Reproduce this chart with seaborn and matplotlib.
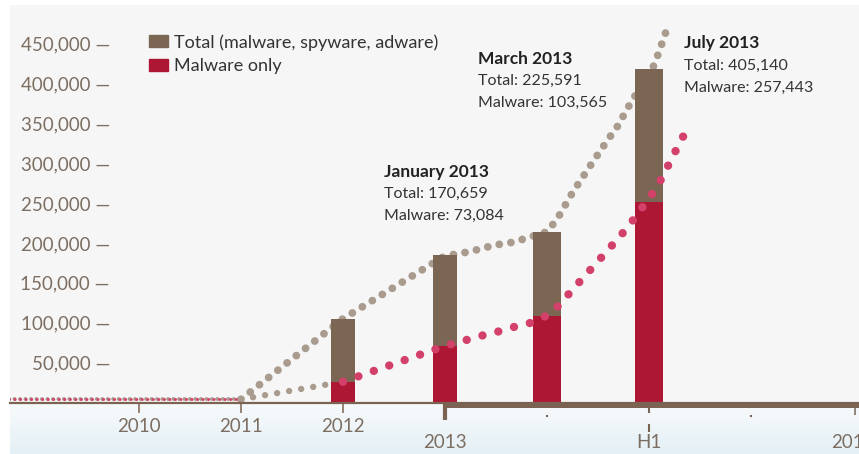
import matplotlib
matplotlib.use("Agg")
import matplotlib.pyplot as plt
from matplotlib.patches import Patch
import seaborn as sns
import numpy as np

# eixo x "quebrado": 1 unidade = 1 ano até 2013, depois 1 trimestre
tick_pos = [1, 2, 3, 4, 6, 8]
tick_labels = ["2010", "2011", "2012", "2013", "H1", "2014"]
minor_pos = [5, 7]

y_ticks = [50000, 100000, 150000, 200000, 250000, 300000, 350000, 400000, 450000]

# barras (altura como desenhada no gráfico original)
bar_x = [3, 4, 5, 6]
bar_total = [105000, 185000, 214000, 418000]
bar_malware = [26000, 71000, 109000, 252000]

# linha pontilhada do total
total_x = [-0.27, 2.0, 3.0, 4.0, 4.16, 4.33, 4.49, 4.67, 5.0, 5.10, 5.25, 5.42,
           5.60, 5.69, 5.84, 6.02, 6.08, 6.13, 6.18]
total_y = [4000, 4000, 105000, 184000, 187000, 192000, 197500, 201000, 214000, 230000,
           263000, 296000, 330000, 346000, 380000, 414000, 433000, 451000, 470000]

# linha pontilhada do malware
malware_x = [-0.27, 2.0, 3.0, 4.0, 4.20, 4.35, 4.51, 4.67, 4.83, 5.0, 5.11, 5.30,
             5.50, 5.71, 5.80, 6.08, 6.16, 6.24, 6.32, 6.40]
malware_y = [4000, 4000, 26000, 71000, 78000, 83500, 88500, 94500, 99500, 109000,
             121000, 148500, 177000, 207500, 221000, 270000, 290000, 310000, 330000, 348000]

legend_labels = ["Total (malware, spyware, adware)", "Malware only"]
notes = [("January 2013", 170659, 73084),
         ("March 2013", 225591, 103565),
         ("July 2013", 405140, 257443)]

brown = "#7b6553"
crimson = "#ae1734"
dot_gray = "#a99c8e"
dot_red = "#d3406a"
axis_brown = "#7a6352"
tick_text = "#7d6e62"

sns.set_style("white")
plt.rcParams["font.family"] = ["Lato", "DejaVu Sans"]

fig = plt.figure(figsize=(8.59, 4.54), dpi=100)
W, H = 859, 454
base_px = 402.5
ax = fig.add_axes([10 / W, (H - base_px) / H, 849 / W, (base_px - 5) / H])
ax_h = base_px - 5

# faixa azulada abaixo do eixo
band = fig.add_axes([10 / W, 0, 849 / W, (H - base_px) / H], zorder=-1)
grad = np.linspace(0, 1, 50).reshape(-1, 1)
band.imshow(grad, aspect="auto", cmap=matplotlib.colors.LinearSegmentedColormap.from_list(
    "b", ["#f8fafb", "#e4f0f6"]), extent=[0, 1, 0, 1])
band.axis("off")

ax.set_facecolor("#f6f6f6")
ax.set_xlim(-0.265, 8.06)
ax.set_ylim(0, (base_px - 5) / 0.7975 * 1000)


def dotted(xs, ys, color, size, gap, z):
    sns.lineplot(x=xs, y=ys, sort=False, estimator=None, color=color, linewidth=size,
                 linestyle=(0, (0.01, gap)), dash_capstyle="round", zorder=z, ax=ax)


# total
dotted(total_x[:2], total_y[:2], dot_gray, 2.8, 1.4, 1)
dotted(total_x[1:], total_y[1:], dot_gray, 5.6, 1.5, 1)

# barras
w = [0.23, 0.24, 0.27, 0.27]
ax.bar(bar_x, bar_total, width=w, color=brown, linewidth=0, zorder=2)
ax.bar(bar_x, bar_malware, width=w, color=crimson, linewidth=0, zorder=2)

# malware
dotted(malware_x[:2], malware_y[:2], dot_red, 2.2, 1.8, 3)
dotted(malware_x[1:3], malware_y[1:3], dot_gray, 4.6, 1.9, 1)
dotted(malware_x[2:], malware_y[2:], dot_red, 6.0, 1.95, 3)

# eixos
for s in ["top", "right", "left"]:
    ax.spines[s].set_visible(False)
ax.spines["bottom"].set_color(axis_brown)
ax.spines["bottom"].set_linewidth(1.6)

ax.set_yticks(y_ticks, [f"{v:,} \u2014" for v in y_ticks])
ax.tick_params(axis="y", length=0, pad=-72, labelsize=13.5, labelcolor=tick_text)
ax.set_xticks(tick_pos, tick_labels)
ax.tick_params(axis="x", length=0, labelsize=13.5, labelcolor=tick_text)
for i, t in enumerate(ax.xaxis.get_major_ticks()):
    t.set_pad(11.5 if i < 3 else 22.5)

xt = ax.get_xaxis_transform()


def mark(x, top, bottom, lw, ls="-"):
    ax.plot([x, x], [-top / ax_h, -bottom / ax_h], color=axis_brown, lw=lw, ls=ls,
            transform=xt, clip_on=False, solid_capstyle="butt")


ax.plot([4, 8.06], [-2.2 / ax_h] * 2, color=axis_brown, lw=3.6, transform=xt,
        clip_on=False, solid_capstyle="butt")
for x in tick_pos[:3]:
    mark(x, 0, 10, 1.1)
mark(4, 0, 17, 3)
mark(6, 5, 10.5, 1.5)
mark(6, 21, 29, 1.5)
mark(8.02, 0, 12, 1.1)
for x in minor_pos:
    mark(x, 12.5, 17.5, 1.5, ":")

# legenda
handles = [Patch(color=brown), Patch(color=crimson)]
ax.legend(handles, legend_labels, loc="upper left", bbox_to_anchor=(139 / 849, 0.927),
          frameon=False, fontsize=13, handlelength=1.05, handleheight=0.65,
          handletextpad=0.35, borderpad=0, borderaxespad=0, labelspacing=0.42,
          labelcolor="#333333")

# anotações
anchors = [(3.402, 289000), (4.324, 431300), (6.343, 450200)]
for (title, tot, mal), (xa, ya) in zip(notes, anchors):
    ax.annotate(title, (xa, ya), fontsize=12.5, fontweight="bold", color="#222222",
                va="center", ha="left")
    ax.annotate(f"Total: {tot:,}", (xa, ya), xytext=(0, -16), textcoords="offset points",
                fontsize=11.5, color="#333333", va="center", ha="left")
    ax.annotate(f"Malware: {mal:,}", (xa, ya), xytext=(0, -31.7), textcoords="offset points",
                fontsize=11.5, color="#333333", va="center", ha="left")

fig.savefig("out.png", dpi=100, facecolor="white")
